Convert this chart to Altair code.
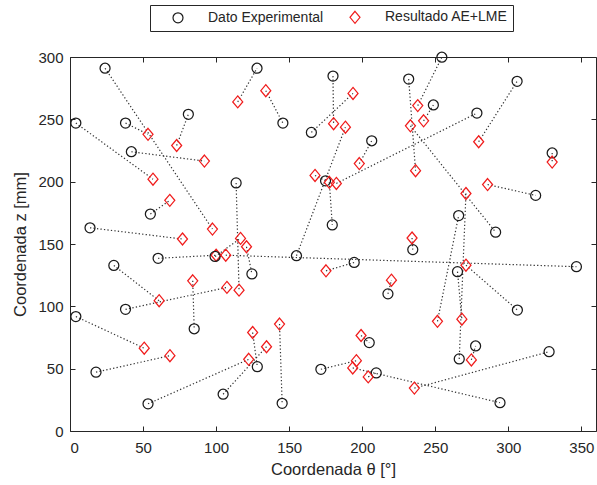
import altair as alt
import pandas as pd

# Experimental points (circles) and paired model results (diamonds)
exp_theta = [24, 4, 38, 42, 81, 55, 13.7, 113.7, 128, 145.7,
             60.3, 99.3, 124.5, 155, 30, 38, 85, 4, 17.8, 53.4,
             104.8, 128.2, 145.2, 180, 165.2, 231.8, 254.5, 248.7, 206.5, 278.5,
             306, 330, 174.9, 179.5, 266, 291.3, 318.7, 234.6, 194.5, 346.6,
             265.2, 217.6, 306.2, 204.8, 277.6, 266.4, 327.9, 171.7, 209.6, 294.3]
exp_z = [291, 247, 247, 224, 254, 174, 163, 199, 291, 247,
         138.5, 140, 126, 140.6, 132.8, 97.6, 82, 91.8, 47.2, 21.8,
         29.5, 51.6, 22.2, 284.7, 239.5, 282.3, 299.8, 261.5, 232.8, 255,
         280.5, 223, 200.7, 165.3, 172.8, 159.5, 189, 145.5, 135.2, 131.8,
         127.8, 110, 97, 70.9, 68.2, 57.8, 63.6, 49.5, 46.6, 22.7]
res_theta = [97.5, 56.8, 53.4, 92, 73, 68.3, 77, 115.7, 114.8, 134,
             100, 116.7, 120.8, 188.5, 61, 107.4, 84, 50.8, 68.4, 122.3,
             134.5, 125, 143.4, 180.4, 193.7, 236.5, 238, 242, 198, 182.3,
             279.7, 330, 167.7, 177.5, 251.5, 233, 285.8, 234.1, 175.2, 106.6,
             268.2, 220, 271, 199.2, 274.7, 271, 235.7, 196, 204.1, 193.5]
res_z = [162, 202, 238, 216.5, 229, 185, 154, 113, 264, 273,
         141, 154.5, 147.8, 243.7, 104.5, 115.2, 120.5, 66.4, 60.4, 57.5,
         67.6, 79, 85.8, 246.5, 270.8, 208.8, 261, 248.8, 214.5, 198.6,
         232, 215.7, 205, 199.5, 88, 244.8, 197.7, 154.8, 128.5, 141,
         89.7, 121, 133, 76.6, 57, 190.5, 34.4, 56.4, 43.4, 50.6]

series_names = ["Dato Experimental", "Resultado AE+LME"]
series_colors = ["#1a1a1a", "#f01c1c"]
diamond_path = "M0,-1.2L1,0L0,1.2L-1,0Z"
x_ticks = [0, 50, 100, 150, 200, 250, 300, 350]
y_ticks = [0, 50, 100, 150, 200, 250, 300]
x_domain = [0, 360]
y_domain = [0, 300]
x_title = "Coordenada θ [°]"
y_title = "Coordenada z [mm]"

rows = []
for i in range(len(exp_theta)):
    rows.append({"pair": i, "serie": series_names[0], "theta": exp_theta[i], "z": exp_z[i]})
    rows.append({"pair": i, "serie": series_names[1], "theta": res_theta[i], "z": res_z[i]})
df = pd.DataFrame(rows)

font = "Liberation Sans"
txt = "#262626"
xs = alt.Scale(domain=x_domain, nice=False, zero=False)
ys = alt.Scale(domain=y_domain, nice=False, zero=False)


def tick_axis(orient, values):
    return alt.Axis(orient=orient, values=values, labels=False, domain=False, grid=False,
                    ticks=True, tickSize=5, offset=-5, tickColor=txt, tickWidth=1, title=None)


ticks_a = alt.Chart(df).mark_point(opacity=0).encode(
    x=alt.X("theta:Q", scale=xs, axis=tick_axis("bottom", x_ticks)),
    y=alt.Y("z:Q", scale=ys, axis=tick_axis("left", y_ticks)),
)
ticks_b = alt.Chart(df).mark_point(opacity=0).encode(
    x=alt.X("theta:Q", scale=xs, axis=tick_axis("top", x_ticks)),
    y=alt.Y("z:Q", scale=ys, axis=tick_axis("right", y_ticks)),
)

lines = alt.Chart(df).mark_line(strokeDash=[1.3, 2.2], strokeWidth=1.2, color="#333333").encode(
    x=alt.X("theta:Q", scale=xs, axis=alt.Axis(
        orient="bottom", values=x_ticks, ticks=False, domain=False, grid=False,
        labelPadding=9, labelFontSize=15, labelColor=txt, labelFont=font,
        title=x_title, titlePadding=6, titleFontSize=16.5, titleColor=txt,
        titleFont=font, titleFontWeight="normal")),
    y=alt.Y("z:Q", scale=ys, axis=alt.Axis(
        orient="left", values=y_ticks, ticks=False, domain=False, grid=False,
        labelPadding=7, labelFontSize=15, labelColor=txt, labelFont=font,
        title=y_title, titlePadding=9, titleFontSize=16.5, titleColor=txt,
        titleFont=font, titleFontWeight="normal")),
    detail="pair:N",
)

legend = alt.Legend(orient="none", legendX=80, legendY=-52, direction="horizontal",
                    title=None, strokeColor=txt, fillColor="white", padding=5,
                    symbolOffset=16, labelOffset=23, columnPadding=8,
                    labelFontSize=14, labelFont=font, labelColor=txt,
                    symbolSize=100, symbolStrokeWidth=1.2)

markers = alt.Chart(df).mark_point(filled=False, size=100, strokeWidth=1.25, opacity=1).encode(
    x=alt.X("theta:Q", scale=xs, axis=None),
    y=alt.Y("z:Q", scale=ys, axis=None),
    shape=alt.Shape("serie:N", scale=alt.Scale(domain=series_names, range=["circle", diamond_path]),
                    legend=legend),
    color=alt.Color("serie:N", scale=alt.Scale(domain=series_names, range=series_colors),
                    legend=legend),
)

chart = alt.layer(ticks_a, ticks_b, lines, markers).resolve_scale(
    x="independent", y="independent"
).properties(
    width=526, height=374,
    padding={"left": 70, "top": 57, "right": 1, "bottom": 54},
    autosize=alt.AutoSizeParams(type="none"),
    background="white",
).configure_view(stroke=txt, strokeWidth=1)

chart.save("out.html", embed_options={"renderer": "svg", "actions": False})
